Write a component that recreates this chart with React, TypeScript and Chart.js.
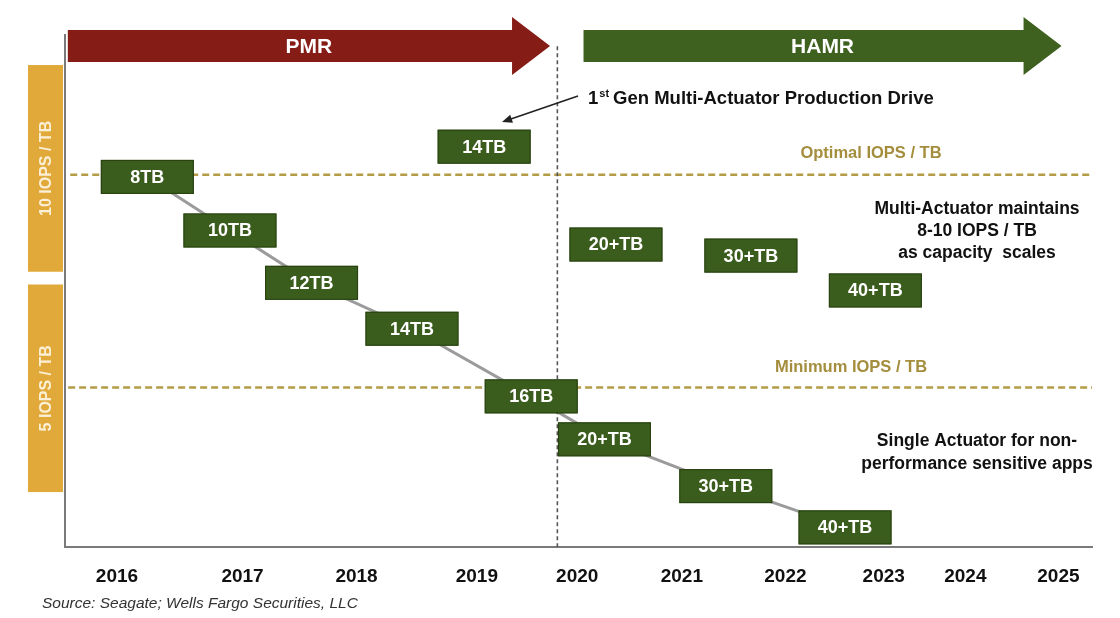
import React, { useEffect, useRef } from 'react';
import { Chart, registerables } from 'chart.js';

Chart.register(...registerables);

// ---- data ----
const years = ['2016', '2017', '2018', '2019', '2020', '2021', '2022', '2023', '2024', '2025'];
// where each year label sits on the (non-uniform) timeline
const yearTickValues = [2016, 2017.2, 2018.29, 2019.44, 2020.4, 2021.4, 2022.39, 2023.33, 2024.11, 2025.0];

const singleLabels = ['8TB', '10TB', '12TB', '14TB', '16TB', '20+TB', '30+TB', '40+TB'];
const singleYear = [2016.29, 2017.08, 2017.86, 2018.82, 2019.96, 2020.66, 2021.82, 2022.96];
const singleIops = [9.95, 8.69, 7.46, 6.38, 4.79, 3.78, 2.68, 1.71];

const multiLabels = ['14TB', '20+TB', '30+TB', '40+TB'];
const multiYear = [2019.51, 2020.77, 2022.06, 2023.25];
const multiIops = [10.66, 8.36, 8.1, 7.28];

const optimalIops = 10;
const minimumIops = 5;

const phaseNames = ['PMR', 'HAMR'];
const phaseStart = [2015.53, 2020.46];
const phaseEnd = [2020.14, 2025.03];

const transitionYear = 2020.21;

const bandLabels = ['10 IOPS / TB', '5 IOPS / TB'];
const bandTop = [12.58, 7.42];
const bandBottom = [7.72, 2.54];

const xMin = 2015.503;
const xMax = 2025.321;
const yMin = 1.244;
const yMax = 13.286;

const FONT = '"Liberation Sans", Arial, sans-serif';

const overlayPlugin = {
  id: 'overlay',
  afterDatasetsDraw(chart: any) {
    const ctx: CanvasRenderingContext2D = chart.ctx;
    const xs = chart.scales.x;
    const ys = chart.scales.y;
    const ca = chart.chartArea;
    ctx.save();

    // capacity boxes on the data points
    const groups: [number, string[]][] = [
      [0, singleLabels],
      [1, multiLabels],
    ];
    groups.forEach(([di, labels]) => {
      const meta = chart.getDatasetMeta(di);
      meta.data.forEach((pt: any, j: number) => {
        const w = 93;
        const h = 34;
        ctx.fillStyle = '#3a5c1c';
        ctx.fillRect(pt.x - w / 2, pt.y - h / 2, w, h);
        ctx.strokeStyle = '#27400f';
        ctx.lineWidth = 1;
        ctx.strokeRect(pt.x - w / 2 + 0.5, pt.y - h / 2 + 0.5, w - 1, h - 1);
        ctx.fillStyle = '#ffffff';
        ctx.font = `bold 18px ${FONT}`;
        ctx.textAlign = 'center';
        ctx.textBaseline = 'middle';
        ctx.fillText(labels[j], pt.x, pt.y + 1);
      });
    });

    // phase arrows
    const arrowY = ca.top + 11;
    const colors = ['#861c16', '#3f6120'];
    phaseNames.forEach((name, i) => {
      const x0 = xs.getPixelForValue(phaseStart[i]);
      const x1 = xs.getPixelForValue(phaseEnd[i]);
      const head = 38;
      const bh = 16;
      const hh = 29;
      ctx.fillStyle = colors[i];
      ctx.beginPath();
      ctx.moveTo(x0, arrowY - bh);
      ctx.lineTo(x1 - head, arrowY - bh);
      ctx.lineTo(x1 - head, arrowY - hh);
      ctx.lineTo(x1, arrowY);
      ctx.lineTo(x1 - head, arrowY + hh);
      ctx.lineTo(x1 - head, arrowY + bh);
      ctx.lineTo(x0, arrowY + bh);
      ctx.closePath();
      ctx.fill();
      ctx.fillStyle = '#ffffff';
      ctx.font = `bold 21px ${FONT}`;
      ctx.textAlign = 'center';
      ctx.textBaseline = 'middle';
      ctx.fillText(name, (x0 + x1) / 2, arrowY + 1);
    });

    // left IOPS bands
    bandLabels.forEach((lab, i) => {
      const t = ys.getPixelForValue(bandTop[i]);
      const b = ys.getPixelForValue(bandBottom[i]);
      const l = ca.left - 37;
      const w = 35;
      ctx.fillStyle = '#e1a93a';
      ctx.fillRect(l, t, w, b - t);
      ctx.save();
      ctx.translate(l + w / 2, (t + b) / 2);
      ctx.rotate(-Math.PI / 2);
      ctx.fillStyle = '#fbf0d6';
      ctx.font = `bold 16px ${FONT}`;
      ctx.textAlign = 'center';
      ctx.textBaseline = 'middle';
      ctx.fillText(lab, 0, 1);
      ctx.restore();
    });

    // threshold labels
    ctx.fillStyle = '#a48d3c';
    ctx.font = `bold 16.5px ${FONT}`;
    ctx.textAlign = 'center';
    ctx.textBaseline = 'middle';
    ctx.fillText('Optimal IOPS / TB', 871, ys.getPixelForValue(optimalIops) - 21);
    ctx.fillText('Minimum IOPS / TB', 851, ys.getPixelForValue(minimumIops) - 20);

    // annotation: 1st Gen Multi-Actuator Production Drive
    ctx.fillStyle = '#111111';
    ctx.textAlign = 'left';
    ctx.textBaseline = 'alphabetic';
    const ax = 588;
    const ay = 104;
    ctx.font = `bold 18.5px ${FONT}`;
    ctx.fillText('1', ax, ay);
    let cx = ax + ctx.measureText('1').width + 1;
    ctx.font = `bold 11px ${FONT}`;
    ctx.fillText('st', cx, ay - 7);
    cx += ctx.measureText('st').width + 4;
    ctx.font = `bold 18.5px ${FONT}`;
    ctx.fillText('Gen Multi-Actuator Production Drive', cx, ay);

    // pointer arrow to the 14TB multi-actuator box
    const sx = 578, sy = 96, ex = 502, ey = 122;
    ctx.strokeStyle = '#222222';
    ctx.lineWidth = 1.6;
    ctx.beginPath();
    ctx.moveTo(sx, sy);
    ctx.lineTo(ex + 6, ey - 2);
    ctx.stroke();
    const ang = Math.atan2(ey - sy, ex - sx);
    ctx.fillStyle = '#222222';
    ctx.beginPath();
    ctx.moveTo(ex, ey);
    ctx.lineTo(ex - 11 * Math.cos(ang - 0.4), ey - 11 * Math.sin(ang - 0.4));
    ctx.lineTo(ex - 11 * Math.cos(ang + 0.4), ey - 11 * Math.sin(ang + 0.4));
    ctx.closePath();
    ctx.fill();

    // right side notes
    ctx.fillStyle = '#111111';
    ctx.font = `bold 17.5px ${FONT}`;
    ctx.textAlign = 'center';
    ctx.textBaseline = 'middle';
    ['Multi-Actuator maintains', '8-10 IOPS / TB', 'as capacity  scales'].forEach((t, i) => {
      ctx.fillText(t, 977, 209 + i * 22);
    });
    ['Single Actuator for non-', 'performance sensitive apps'].forEach((t, i) => {
      ctx.fillText(t, 977, 441 + i * 23);
    });

    // source
    ctx.fillStyle = '#333333';
    ctx.font = `italic 15.5px ${FONT}`;
    ctx.textAlign = 'left';
    ctx.fillText('Source: Seagate; Wells Fargo Securities, LLC', 42, 604);

    ctx.restore();
  },
};

export default function App() {
  const ref = useRef<HTMLCanvasElement>(null);
  useEffect(() => {
    document.body.style.margin = '0';
    const canvas = ref.current!;
    const chart = new Chart(canvas, {
      type: 'line',
      data: {
        datasets: [
          {
            label: 'Single actuator',
            data: singleYear.map((x, i) => ({ x, y: singleIops[i] })),
            borderColor: '#9b9b9b',
            borderWidth: 3,
            pointRadius: 0,
            showLine: true,
            order: 3,
          },
          {
            label: 'Multi-actuator',
            data: multiYear.map((x, i) => ({ x, y: multiIops[i] })),
            borderColor: 'rgba(0,0,0,0)',
            pointRadius: 0,
            showLine: false,
            order: 3,
          },
          {
            label: 'Optimal IOPS / TB',
            data: [
              { x: xMin + 0.05, y: optimalIops },
              { x: xMax, y: optimalIops },
            ],
            borderColor: '#b39c45',
            borderWidth: 2.5,
            borderDash: [7, 4],
            pointRadius: 0,
            order: 2,
          },
          {
            label: 'Minimum IOPS / TB',
            data: [
              { x: xMin + 0.03, y: minimumIops },
              { x: xMax, y: minimumIops },
            ],
            borderColor: '#b39c45',
            borderWidth: 2.5,
            borderDash: [7, 4],
            pointRadius: 0,
            order: 2,
          },
          {
            label: 'PMR / HAMR transition',
            data: [
              { x: transitionYear, y: yMin },
              { x: transitionYear, y: 13.05 },
            ],
            borderColor: '#555555',
            borderWidth: 1.6,
            borderDash: [4, 3],
            pointRadius: 0,
            order: 1,
          },
        ],
      },
      options: {
        responsive: false,
        animation: false,
        events: [],
        layout: { padding: { top: 35, left: 65, right: 28, bottom: 12 } },
        plugins: {
          legend: { display: false },
          tooltip: { enabled: false },
          title: { display: false },
        },
        scales: {
          x: {
            type: 'linear',
            min: xMin,
            max: xMax,
            afterBuildTicks: (scale: any) => {
              scale.ticks = yearTickValues.map((v) => ({ value: v }));
            },
            ticks: {
              autoSkip: false,
              maxRotation: 0,
              padding: 18,
              color: '#111111',
              font: { family: FONT, size: 19, weight: 'bold' },
              callback: (_v: any, i: number) => years[i],
            },
            grid: { display: false, drawTicks: false },
            border: { display: true, color: '#7a7a7a', width: 2 },
          },
          y: {
            type: 'linear',
            min: yMin,
            max: yMax,
            ticks: { display: false },
            grid: { display: false, drawTicks: false },
            border: { display: true, color: '#7a7a7a', width: 2 },
          },
        },
      },
      plugins: [overlayPlugin],
    } as any);
    return () => chart.destroy();
  }, []);
  return (
    <div style={{ position: 'absolute', left: 0, top: 0, width: 1120, height: 618, background: '#ffffff' }}>
      <canvas ref={ref} width={1120} height={618} style={{ display: 'block' }} />
    </div>
  );
}
